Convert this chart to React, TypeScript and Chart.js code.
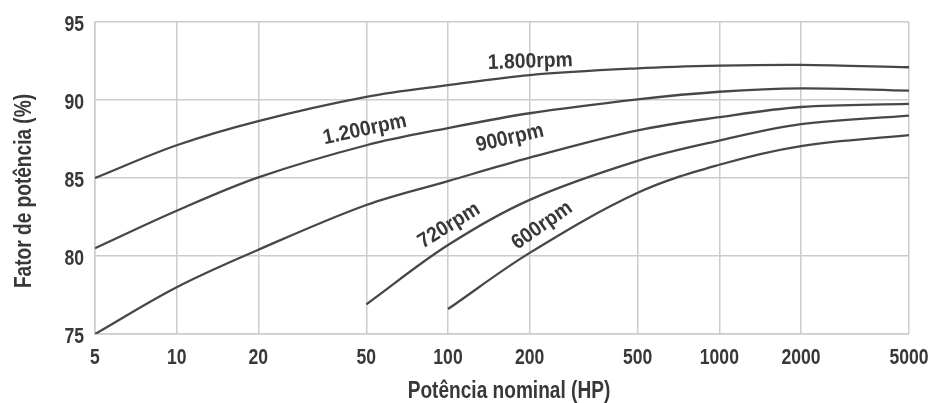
import React, { useEffect, useRef } from "react";
import { Chart, registerables } from "chart.js";

Chart.register(...registerables);

// ---- data ----
const hpValues = [5, 10, 20, 50, 100, 200, 500, 1000, 2000, 5000];
const xTickValues = [5, 10, 20, 50, 100, 200, 500, 1000, 2000, 5000];
const yTickValues = [75, 80, 85, 90, 95];

const pf1800 = [85.0, 87.1, 88.65, 90.2, 90.95, 91.6, 92.03, 92.2, 92.25, 92.1];
const pf1200 = [80.5, 82.9, 85.04, 87.1, 88.2, 89.15, 90.04, 90.53, 90.75, 90.6];
const pf900 = [75.0, 78.0, 80.4, 83.27, 84.8, 86.3, 88.05, 88.9, 89.55, 89.75];
const pf720 = [null, null, null, 76.9, 80.7, 83.6, 86.1, 87.4, 88.45, 89.0];
const pf600 = [null, null, null, null, 76.6, 80.2, 84.05, 85.85, 87.05, 87.75];

const seriesNames = ["1.800rpm", "1.200rpm", "900rpm", "720rpm", "600rpm"];
const seriesValues = [pf1800, pf1200, pf900, pf720, pf600];

// curve label anchors (data units) and rotation in degrees
const labelHp = [201, 49.4, 169, 101, 222];
const labelPf = [92.45, 88.1, 87.55, 81.95, 81.95];
const labelAngle = [-2, -12, -13, -32, -35];

const xTitle = "Potência nominal (HP)";
const yTitle = "Fator de potência (%)";

const FONT = "'Liberation Sans', Arial, sans-serif";
const TEXT = "#383838";
const GRID = "#cbccd1";
const LINE = "#474747";

function drawText(
  ctx: CanvasRenderingContext2D,
  text: string,
  x: number,
  y: number,
  size: number,
  sx: number,
  angleDeg: number,
  align: CanvasTextAlign,
  baseline: CanvasTextBaseline
) {
  ctx.save();
  ctx.translate(x, y);
  ctx.rotate((angleDeg * Math.PI) / 180);
  ctx.scale(sx, 1);
  ctx.font = `bold ${size}px ${FONT}`;
  ctx.textAlign = align;
  ctx.textBaseline = baseline;
  ctx.fillStyle = TEXT;
  ctx.fillText(text, 0, 0);
  ctx.restore();
}

const textPlugin = {
  id: "textLayer",
  afterDraw(chart: any) {
    const { ctx, scales, chartArea } = chart;
    const xs = scales.x;
    const ys = scales.y;
    // tick labels
    yTickValues.forEach((v) => {
      drawText(ctx, String(v), chartArea.left - 11, ys.getPixelForValue(v) + 9, 22, 0.8, 0, "right", "alphabetic");
    });
    xTickValues.forEach((v) => {
      drawText(ctx, String(v), xs.getPixelForValue(v), chartArea.bottom + 30, 22, 0.8, 0, "center", "alphabetic");
    });
    // axis titles
    drawText(ctx, xTitle, (chartArea.left + chartArea.right) / 2 + 7, chartArea.bottom + 64, 23, 0.83, 0, "center", "alphabetic");
    drawText(ctx, yTitle, 31, (chartArea.top + chartArea.bottom) / 2 + 13, 23, 0.83, -90, "center", "alphabetic");
    // curve labels
    seriesNames.forEach((name, i) => {
      drawText(ctx, name, xs.getPixelForValue(labelHp[i]), ys.getPixelForValue(labelPf[i]), 21, 0.92, labelAngle[i], "center", "middle");
    });
  },
};

export default function App() {
  const canvasRef = useRef<HTMLCanvasElement | null>(null);

  useEffect(() => {
    document.body.style.margin = "0";
    const canvas = canvasRef.current;
    if (!canvas) return;
    const chart = new Chart(canvas, {
      type: "line",
      data: {
        datasets: seriesNames.map((name, i) => ({
          label: name,
          data: hpValues.map((h, j) => ({ x: h, y: seriesValues[i][j] as any })),
          borderColor: LINE,
          borderWidth: 2.3,
          pointRadius: 0,
          fill: false,
          tension: 0.35,
          spanGaps: false,
        })),
      },
      options: {
        responsive: false,
        animation: false,
        devicePixelRatio: 1,
        layout: { padding: { top: 22, right: 19, left: 0, bottom: 0 } },
        plugins: { legend: { display: false }, tooltip: { enabled: false } },
        scales: {
          x: {
            type: "logarithmic",
            min: 5,
            max: 5000,
            afterBuildTicks: (s: any) => {
              s.ticks = xTickValues.map((v) => ({ value: v }));
            },
            afterFit: (s: any) => {
              s.height = 69;
            },
            ticks: { display: false },
            grid: { color: GRID, lineWidth: 1.5, drawTicks: false },
            border: { color: GRID, width: 1.5 },
          },
          y: {
            type: "linear",
            min: 75,
            max: 95,
            afterBuildTicks: (s: any) => {
              s.ticks = yTickValues.map((v) => ({ value: v }));
            },
            afterFit: (s: any) => {
              s.width = 95;
            },
            ticks: { display: false },
            grid: { color: GRID, lineWidth: 1.5, drawTicks: false },
            border: { color: GRID, width: 1.5 },
          },
        },
      },
      plugins: [textPlugin],
    } as any);
    return () => chart.destroy();
  }, []);

  return (
    <div style={{ width: 928, height: 403, background: "#fff" }}>
      <canvas ref={canvasRef} width={928} height={403} />
    </div>
  );
}
